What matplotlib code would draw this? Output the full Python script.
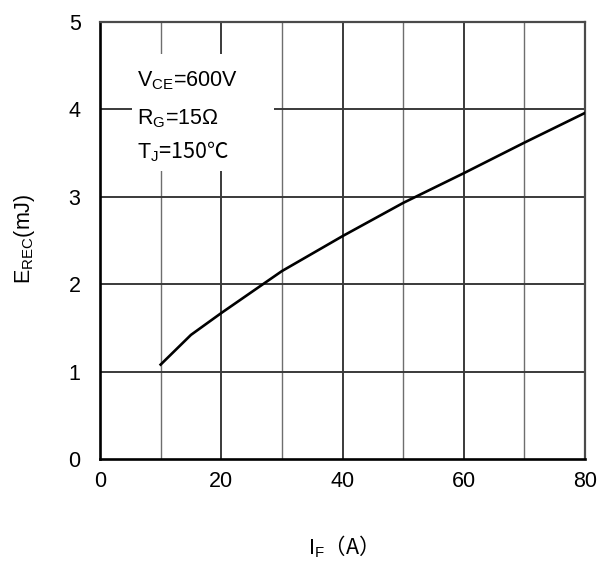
import numpy as np
import matplotlib
matplotlib.use('Agg')
import matplotlib.pyplot as plt
from matplotlib.patches import Rectangle

# Recovery energy vs forward current
i_f = [10, 15, 20, 30, 40, 50, 60, 70, 80]
e_rec = [1.08, 1.42, 1.67, 2.15, 2.55, 2.93, 3.27, 3.62, 3.96]

x_ticks = [0, 20, 40, 60, 80]
y_ticks = [0, 1, 2, 3, 4, 5]

conditions = [r'$\mathrm{V_{CE}}$=600V', r'$\mathrm{R_G}$=15Ω', r'$\mathrm{T_J}$=150℃']

plt.rcParams['font.family'] = ['Liberation Sans', 'DejaVu Sans']
plt.rcParams['mathtext.fontset'] = 'custom'
plt.rcParams['mathtext.rm'] = 'Liberation Sans'
plt.rcParams['mathtext.it'] = 'Liberation Sans'

fs = 15.5

fig = plt.figure(figsize=(6, 5.62), dpi=100)
ax = fig.add_axes([0.1667, 0.1833, 0.8083, 0.7775])

ax.set_xlim(0, 80)
ax.set_ylim(0, 5)

# grille : lignes paires foncées, impaires plus claires
for x in range(10, 80, 10):
    if x % 20 == 0:
        ax.axvline(x, color='#3a3a3a', lw=1.4, zorder=1)
    else:
        ax.axvline(x, color='#6e6e6e', lw=1.0, zorder=1)
for y in range(1, 5):
    ax.axhline(y, color='#3a3a3a', lw=1.4, zorder=1)

# cadre des conditions de test
ax.add_patch(Rectangle((5.3, 3.29), 23.4, 1.34, facecolor='white', edgecolor='none', zorder=2))
fams = ['Liberation Sans', 'Liberation Sans', 'Noto Sans CJK SC']
for txt, yb, fam in zip(conditions, [4.26, 3.83, 3.44], fams):
    ax.text(6.1, yb, txt, fontsize=fs, va='baseline', ha='left', zorder=3, family=fam)

ax.plot(i_f, e_rec, color='black', lw=1.9, zorder=4)

ax.set_xticks(x_ticks)
ax.set_yticks(y_ticks)
ax.tick_params(length=0, labelsize=fs)
ax.tick_params(axis='y', pad=14)
ax.tick_params(axis='x', pad=9)

for side in ['left', 'bottom']:
    ax.spines[side].set_linewidth(1.9)
    ax.spines[side].set_color('black')
for side in ['top', 'right']:
    ax.spines[side].set_linewidth(1.6)
    ax.spines[side].set_color('#4a4a4a')

ax.set_ylabel(r'$\mathrm{E_{REC}}$(mJ)', fontsize=fs)
ax.yaxis.set_label_coords(-0.13, 0.505)
ax.set_xlabel(r'$\mathrm{I_F}$（A）', fontsize=fs, family='Noto Sans CJK SC')
ax.xaxis.set_label_coords(0.49, -0.17)

fig.savefig('out.png', dpi=100)
